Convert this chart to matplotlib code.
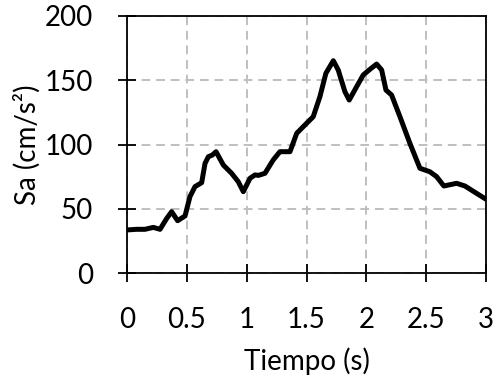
import matplotlib
matplotlib.use("Agg")
import matplotlib.pyplot as plt

t = [0.0, 0.08, 0.15, 0.22, 0.276, 0.332, 0.373, 0.423, 0.485, 0.526, 0.568, 0.624,
     0.652, 0.68, 0.713, 0.744, 0.805, 0.874, 0.93, 0.972, 1.028, 1.069, 1.1, 1.153,
     1.222, 1.278, 1.362, 1.418, 1.487, 1.556, 1.612, 1.662, 1.724, 1.765, 1.821,
     1.857, 1.919, 1.974, 2.03, 2.086, 2.128, 2.164, 2.211, 2.281, 2.364, 2.448,
     2.531, 2.587, 2.648, 2.754, 2.824, 2.921, 3.0]
sa = [33.5, 34, 34, 35.5, 34, 42.5, 47.7, 40.7, 44.4, 59.4, 67.2, 70.3,
      85.3, 90.5, 91.8, 94.4, 84, 77.6, 71, 63.3, 73.7, 76.3, 76, 77.6,
      88, 94.4, 94.4, 108.7, 115.2, 121.6, 137.2, 155.4, 165.2, 158, 141.1,
      134.6, 145, 154.1, 158.5, 162.6, 158, 142.4, 138.5, 121.6, 100.9, 81.5,
      78.8, 75, 67.7, 69.8, 67.7, 62, 57.4]
xticks = [0, 0.5, 1, 1.5, 2, 2.5, 3]
xticklabels = ["0", "0.5", "1", "1.5", "2", "2.5", "3"]
yticks = [0, 50, 100, 150, 200]

plt.rcParams['font.family'] = ['Lato', 'DejaVu Sans']
fig = plt.figure(figsize=(4.96, 3.83), dpi=100)
ax = fig.add_axes([127/496, 1-273/383, (486-127)/496, (273-16)/383])
ax.plot(t, sa, color='black', lw=3.6, solid_joinstyle='round', solid_capstyle='round')
ax.set_xlim(0, 3)
ax.set_ylim(0, 200)
ax.set_xticks(xticks)
ax.set_xticklabels(xticklabels)
ax.set_yticks(yticks)
ax.grid(True, color='#bfbfbf', linestyle=(0, (4.5, 3)), lw=1.4)
ax.tick_params(direction='inout', length=13, width=1.3, labelsize=20, color='black')
ax.tick_params(axis='x', pad=18)
ax.tick_params(axis='y', pad=18)
for s in ax.spines.values():
    s.set_linewidth(1.3)
ax.set_xlabel("Tiempo (s)", fontsize=20, labelpad=10)
ax.set_ylabel("Sa (cm/s²)", fontsize=20, labelpad=3)
fig.savefig("out.png", dpi=100)
